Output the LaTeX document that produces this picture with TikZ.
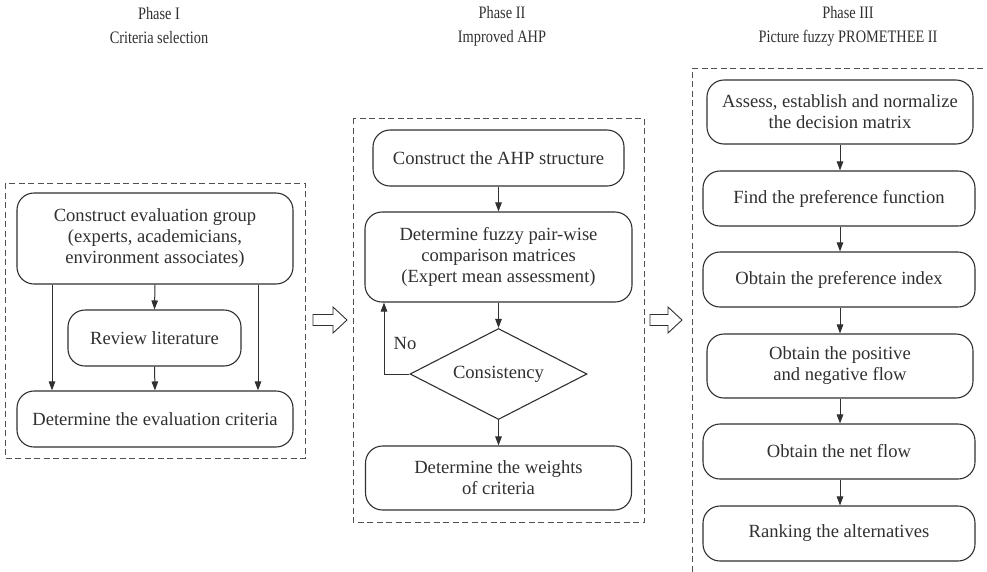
\documentclass[tikz,border=0pt]{standalone}
\usepackage{fontspec}
\setmainfont{Liberation Serif}
\usetikzlibrary{shapes.geometric,arrows.meta}
\definecolor{ink}{HTML}{303030}
\definecolor{dash}{HTML}{505050}
\begin{document}
\begin{tikzpicture}[x=1pt,y=-1pt,
  every node/.style={text=ink},
  box/.style={draw=ink,line width=1.1pt,rounded corners=17pt,align=center,inner sep=0pt,
     font=\fontsize{18.6}{21}\selectfont},
  dia/.style={draw=ink,line width=1.1pt,diamond,shape aspect=2,inner sep=0pt,font=\fontsize{18.6}{21}\selectfont},
  phase/.style={draw=dash,line width=0.9pt,dash pattern=on 6pt off 3.5pt},
  arr/.style={draw=ink,line width=1pt,-{Triangle[length=9pt,width=6.5pt]}},
  title/.style={align=center,font=\fontsize{17.5}{24}\selectfont},
  hollow/.style={draw=ink,line width=0.9pt,fill=white}]
\useasboundingbox (0,0) rectangle (987,571);

% titles
\node[title] (t1) at (159,26) {\scalebox{0.82}[1]{Phase I}\\\scalebox{0.82}[1]{Criteria selection}};
\node[title] (t2) at (502,26) {\scalebox{0.82}[1]{Phase II}\\\scalebox{0.82}[1]{Improved AHP}};
\node[title] (t3) at (848,26) {\scalebox{0.82}[1]{Phase III}\\\scalebox{0.82}[1]{Picture fuzzy PROMETHEE II}};

% phase boxes
\draw[phase] (5,183) rectangle (305,458);
\draw[phase] (353,118) rectangle (644,522);
\begin{scope}
\clip (0,0) rectangle (987,571);
\draw[phase] (692,600) -- (692,68) -- (990,68);
\end{scope}

% Phase I
\node[box,minimum width=276pt,minimum height=91pt] (cg) at (155,238.5)
  {Construct evaluation group\\(experts, academicians,\\environment associates)};
\node[box,minimum width=173pt,minimum height=56pt] (rl) at (154.5,338) {Review literature};
\node[box,minimum width=276pt,minimum height=56pt] (dc) at (155,419) {Determine the evaluation criteria};
\coordinate (xl) at (52,0);
\coordinate (xr) at (258,0);
\draw[arr] (cg.south) -- (rl.north);
\draw[arr] (rl.south) -- (dc.north);
\draw[arr] (cg.south -| xl) -- (dc.north -| xl);
\draw[arr] (cg.south -| xr) -- (dc.north -| xr);

% Phase II
\node[box,minimum width=251pt,minimum height=56pt] (ahp) at (498.5,158) {Construct the AHP structure};
\node[box,minimum width=267pt,minimum height=90pt] (fz) at (498.5,257)
  {Determine fuzzy pair-wise\\comparison matrices\\(Expert mean assessment)};
\node[dia,minimum width=177pt,minimum height=91pt] (cs) at (498.5,374) {Consistency};
\node[box,minimum width=266pt,minimum height=64pt] (wt) at (498.5,478) {Determine the weights\\of criteria};
\coordinate (xno) at (384,0);
\draw[arr] (ahp.south) -- (fz.north);
\draw[arr] (fz.south) -- (cs.north);
\draw[arr] (cs.south) -- (wt.north);
\draw[arr] (cs.west) -| (fz.south -| xno);
\node[font=\fontsize{18.6}{21}\selectfont] (no) at (405,343) {No};

% Phase III
\node[box,minimum width=266pt,minimum height=64pt] (p1) at (840,112) {Assess, establish and normalize\\the decision matrix};
\node[box,minimum width=272pt,minimum height=55pt] (p2) at (839,198.5) {Find the preference function};
\node[box,minimum width=272pt,minimum height=55pt] (p3) at (839,279.5) {Obtain the preference index};
\node[box,minimum width=266pt,minimum height=64pt] (p4) at (840,366) {Obtain the positive\\and negative flow};
\node[box,minimum width=272pt,minimum height=55pt] (p5) at (839,451.5) {Obtain the net flow};
\node[box,minimum width=272pt,minimum height=55pt] (p6) at (839,533.5) {Ranking the alternatives};
\coordinate (xc) at (840,0);
\draw[arr] (p1.south -| xc) -- (p2.north -| xc);
\draw[arr] (p2.south -| xc) -- (p3.north -| xc);
\draw[arr] (p3.south -| xc) -- (p4.north -| xc);
\draw[arr] (p4.south -| xc) -- (p5.north -| xc);
\draw[arr] (p5.south -| xc) -- (p6.north -| xc);

% hollow block arrows
\draw[hollow] (313,314.5) -- (333,314.5) -- (333,307) -- (347,320) -- (333,333) -- (333,325.5) -- (313,325.5) -- cycle;
\draw[hollow] (650,314.5) -- (668,314.5) -- (668,307) -- (682,320) -- (668,333) -- (668,325.5) -- (650,325.5) -- cycle;
\end{tikzpicture}
\end{document}
